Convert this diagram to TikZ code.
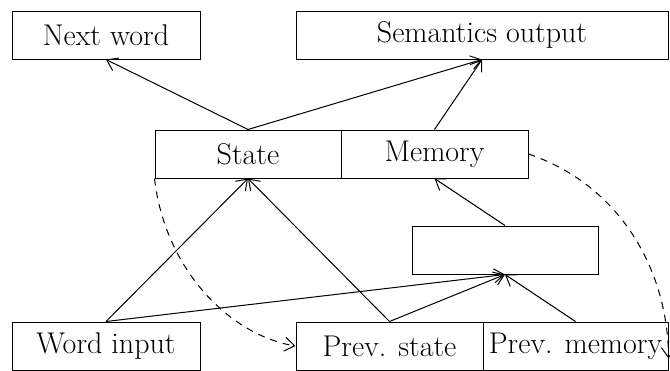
\documentclass[tikz,border=0pt]{standalone}
\usetikzlibrary{arrows.meta}
\begin{document}
\begin{tikzpicture}[x=0.5pt,y=-0.5pt,
  box/.style={draw,line width=0.5pt,minimum width=94pt,minimum height=24pt,inner sep=0pt,font=\fontsize{15}{18}\selectfont},
  conn/.style={line width=0.5pt,-{Straight Barb[length=5pt,width=7pt]}},
  dconn/.style={conn,dash pattern=on 3.5pt off 3pt}]
\useasboundingbox (0,0) rectangle (670,370);
\node[box] (next) at (106,35) {Next word};
\node[box,minimum width=186pt] (sem) at (482,35) {Semantics output};
\node[box,minimum width=93pt] (state) at (248,154) {State};
\node[box,minimum width=93.5pt] (mem) at (434.5,154) {Memory};
\node[box,minimum width=93pt] (hid) at (505,250) {};
\node[box] (word) at (106,346) {Word input};
\node[box,minimum width=93.5pt] (pstate) at (389.5,346) {Prev. state};
\node[box,minimum width=92.5pt] (pmem) at (575.5,346) {Prev. memory};
\draw[conn] (state.north) -- (next.south);
\draw[conn] (state.north) -- (sem.south);
\draw[conn] (mem.north) -- (sem.south);
\draw[conn] (word.north) -- (state.south);
\draw[conn] (pstate.north) -- (state.south);
\draw[conn] (hid.north) -- (mem.south);
\draw[conn] (word.north) -- (hid.south);
\draw[conn] (pstate.north) -- (hid.south);
\draw[conn] (pmem.north) -- (hid.south);
\draw[dconn] (state.south west) .. controls (165,270) and (230,335) .. (pstate.west);
\draw[dconn] (mem.east) .. controls (620,185) and (668,270) .. ([yshift=6pt]pmem.south east);
\end{tikzpicture}
\end{document}
